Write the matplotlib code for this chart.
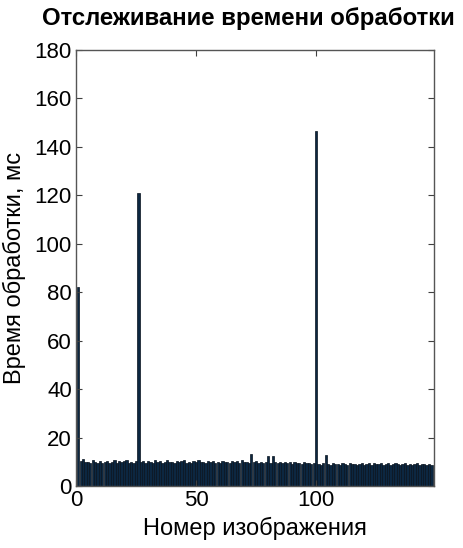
import numpy as np
import matplotlib.pyplot as plt

# processing time per image, ms
times_ms = [
    82,
    10.5, 11.2, 9.8, 10.1, 9.4, 10.6, 9.9, 9.6, 10.3, 9.5, 9.9, 10.4,
    9.7, 10.0, 10.8, 9.6, 10.2, 9.8, 10.5, 10.9, 9.7, 10.1, 9.5, 10.3,
    121,
    9.8, 10.2, 9.6, 10.4, 10.0, 9.7, 10.6, 9.9, 10.3, 9.5, 10.1, 10.7,
    9.8, 10.0, 9.6, 10.4, 9.9, 10.2, 10.8, 9.7, 10.1, 9.5, 10.3, 9.9,
    10.6, 9.8, 10.0, 9.4, 10.2, 9.9, 10.5, 9.7, 10.1, 9.6, 10.3, 9.9,
    10.0, 9.5, 10.4, 9.8, 10.2, 9.7, 10.6, 9.9, 10.1, 9.6,
    13.2,
    9.8, 10.2, 9.7, 10.0, 9.5, 9.9,
    12.6, 9.6, 12.4,
    10.1, 9.7, 9.9, 9.4, 10.0, 9.6, 9.8, 9.3, 9.9, 9.5, 9.7, 9.2,
    9.8, 9.4, 9.6, 9.1, 9.5,
    146.5,
    9.2, 8.9, 9.4,
    12.8,
    9.3, 8.9, 9.5, 9.0, 9.2, 8.8, 9.4, 9.1, 8.9, 9.6, 9.0, 9.3,
    8.7, 9.2, 9.5, 8.9, 9.1, 9.4, 8.8, 9.7, 9.0, 9.3, 9.6, 8.9,
    9.2, 9.5, 8.8, 9.1, 9.4, 9.0, 8.7, 9.3, 9.6, 8.9, 9.2, 8.8,
    9.1, 9.4, 8.7, 9.0, 9.3, 8.8, 9.1, 8.6,
]
image_no = np.arange(1, len(times_ms) + 1)

xticks = [0, 50, 100]
yticks = list(range(0, 181, 20))

plt.rcParams['font.family'] = ['Liberation Sans', 'DejaVu Sans']

fig = plt.figure(figsize=(4.63, 5.48), dpi=100)
ax = fig.add_axes([0.164, 0.113, 0.773, 0.796])

ax.bar(image_no, times_ms, width=0.95, color='#0c2741', edgecolor='#07121d', linewidth=0.5)

ax.set_xlim(0, len(times_ms) + 1)
ax.set_ylim(0, 180)
ax.set_xticks(xticks)
ax.set_yticks(yticks)
ax.tick_params(direction='in', top=True, right=True, labelsize=16, length=4,
               color='#404040', width=0.8, pad=3)
for s in ax.spines.values():
    s.set_color('#555555')
    s.set_linewidth(1.0)

# title sits a bit left of the axes centre, as in the original
fig.text(0.536, 0.988, 'Отслеживание времени обработки', fontsize=17.3,
         fontweight='bold', ha='center', va='top')
ax.set_xlabel('Номер изображения', fontsize=17, labelpad=4)
ax.set_ylabel('Время обработки, мс', fontsize=17, labelpad=6)

fig.savefig('out.png', dpi=100)
